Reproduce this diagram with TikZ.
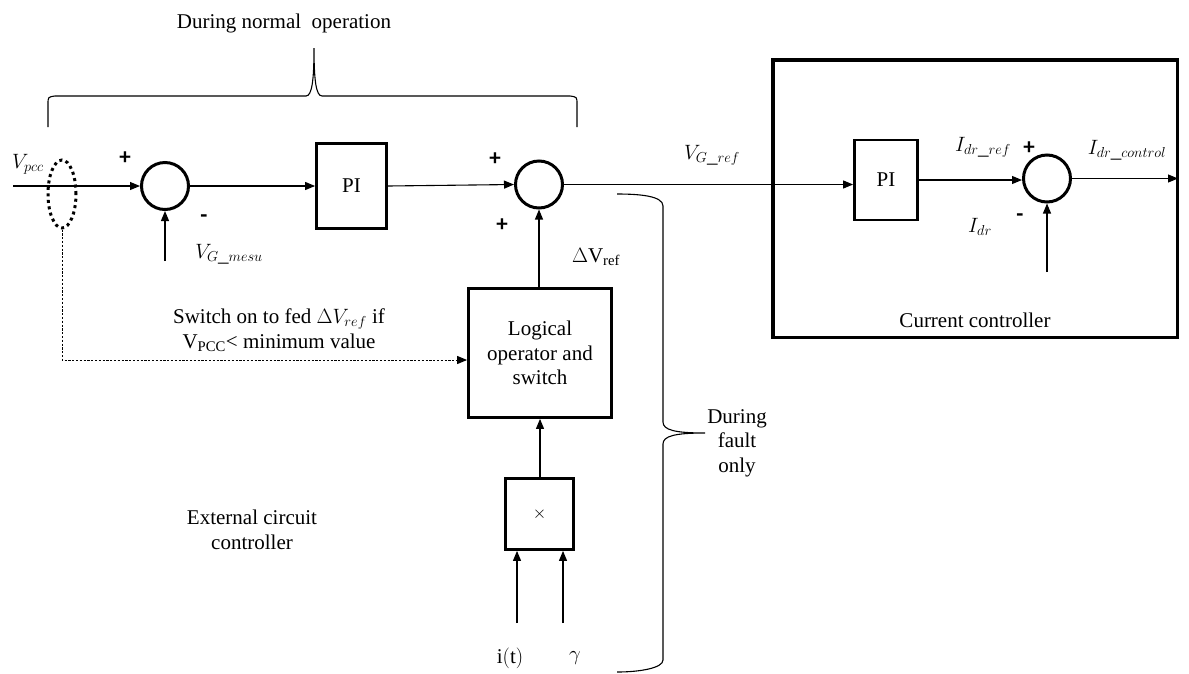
\documentclass[tikz,border=0pt]{standalone}
\usepackage{fontspec}
\setmainfont{Liberation Serif}
\newfontfamily\signfont{Carlito}
\usetikzlibrary{arrows.meta,shapes.geometric,calc}
\begin{document}
\begin{tikzpicture}[x=1pt,y=-1pt,
  txt/.style={font=\fontsize{21}{24.5}\selectfont, inner sep=0pt, align=center},
  sgn/.style={font=\signfont\bfseries\fontsize{23}{24}\selectfont, inner sep=0pt},
  blockbox/.style={draw, line width=2.8pt, rectangle, inner sep=0pt,
    font=\fontsize{21}{24.5}\selectfont, align=center},
  sumj/.style={draw, line width=3pt, circle, minimum size=47pt, inner sep=0pt},
  sig/.style={line width=1.1pt, -{Triangle[length=10pt,width=8pt]}},
  brc/.style={line width=1.1pt}]
\useasboundingbox (0,0) rectangle (1189,673);

% ---- main voltage loop ----
\node[sumj] (s1) at (165,186) {};
\node[blockbox, minimum width=70pt, minimum height=85pt] (pi1) at (351.5,186) {PI};
\node[sumj] (s2) at (539,184.5) {};
\node[blockbox, minimum width=143pt, minimum height=129pt] (logic) at (540,353)
  {Logical\\operator and\\switch};
\node[blockbox, minimum width=68pt, minimum height=71pt] (mult) at (539.5,514)
  {\fontsize{17}{17}\selectfont$\times$};

% ---- current controller ----
\node[draw, line width=3.5pt, rectangle, minimum width=404.5pt, minimum height=277.5pt,
  inner sep=0pt] (cc) at (975,198.5) {};
\node[blockbox, minimum width=63pt, minimum height=80pt] (pi2) at (886,180) {PI};
\node[sumj] (s3) at (1047,178.5) {};
\node[txt] (cclab) at (975,320) {Current controller};

% ---- measurement point on the PCC line ----
\node[draw, ellipse, line width=3pt, dash pattern=on 3pt off 3.5pt,
  minimum width=28pt, minimum height=68pt, inner sep=0pt] (ct) at (62,194) {};

% free ends of the signal lines
\coordinate (vin) at (13,186);
\coordinate (vmes) at (165,261);
\coordinate (idr) at (1047,272);
\coordinate (iout) at (1178,178.5);
\coordinate (it) at (517,623);
\coordinate (gm) at (563,623);

% ---- connectors ----
\draw[sig] (vin) -- (s1.west);
\draw[sig] (vmes) -- (s1.south);
\draw[sig] (s1.east) -- (pi1.west);
\draw[sig] (pi1.east) -- (s2.west);
\draw[sig] (s2.east) -- (pi2.west |- s2.east);
\draw[sig] (pi2.east) -- (s3.west |- pi2.east);
\draw[sig] (s3.east) -- (iout);
\draw[sig] (idr) -- (s3.south);
\draw[sig] (logic.north -| s2.south) -- (s2.south);
\draw[sig] (mult.north -| logic.south) -- (logic.south);
\draw[sig] (it) -- (it |- mult.south);
\draw[sig] (gm) -- (gm |- mult.south);
\draw[line width=1pt, dash pattern=on 2.2pt off 1.6pt, -{Triangle[length=10pt,width=8pt]}]
  (ct.south) |- ($(logic.west)+(0,7)$);

% ---- signs and signal labels ----
\node[sgn] (p1) at (125,158) {+};
\node[sgn] (m1) at (204,219) {-};
\node[sgn] (p2) at (495,159) {+};
\node[sgn] (p3) at (502,225) {+};
\node[sgn] (p4) at (1029,148) {+};
\node[sgn] (m2) at (1020,218) {-};

\node[txt] (lvpcc) at (28,164) {$V_{pcc}$};
\node[txt] (lvmes) at (229,254) {$V_{G\_mesu}$};
\node[txt] (lvref) at (712,155) {$V_{G\_ref}$};
\node[txt] (ldv) at (596,257) {$\Delta\mathrm{V}_{\mathrm{ref}}$};
\node[txt] (lidref) at (983,147) {$I_{dr\_ref}$};
\node[txt] (lidctl) at (1127,150) {$I_{dr\_control}$};
\node[txt] (lidr) at (980,227) {$I_{dr}$};
\node[txt] (lit) at (510,658) {$\mathrm{i(t)}$};
\node[txt] (lgm) at (575,658) {$\gamma$};

\node[txt] (lsw) at (279,330) {Switch on to fed $\Delta V_{ref}$ if\\
  $\mathrm{V}_{\mathrm{PCC}}$< minimum value};
\node[txt] (lext) at (252,530) {External circuit\\controller};
\node[txt] (lnorm) at (284,23) {During normal\ \ operation};
\node[txt] (lfault) at (737,443) {During\\fault\\only};

% ---- braces ----
\draw[brc] (48,127) -- (48,104) .. controls (48,97) .. (55,96) -- (306,96)
  .. controls (312,96) and (314,80) .. (314,48)
  .. controls (314,80) and (316,96) .. (322,96) -- (570,96)
  .. controls (577,97) .. (577,104) -- (577,127);
\draw[brc] (617,194) .. controls (640,194) and (663,196) .. (663,206) -- (663,422)
  .. controls (663,430) and (675,433) .. (705,433)
  .. controls (675,433) and (663,436) .. (663,444) -- (663,660)
  .. controls (663,668) and (640,672) .. (617,672);
\end{tikzpicture}
\end{document}
